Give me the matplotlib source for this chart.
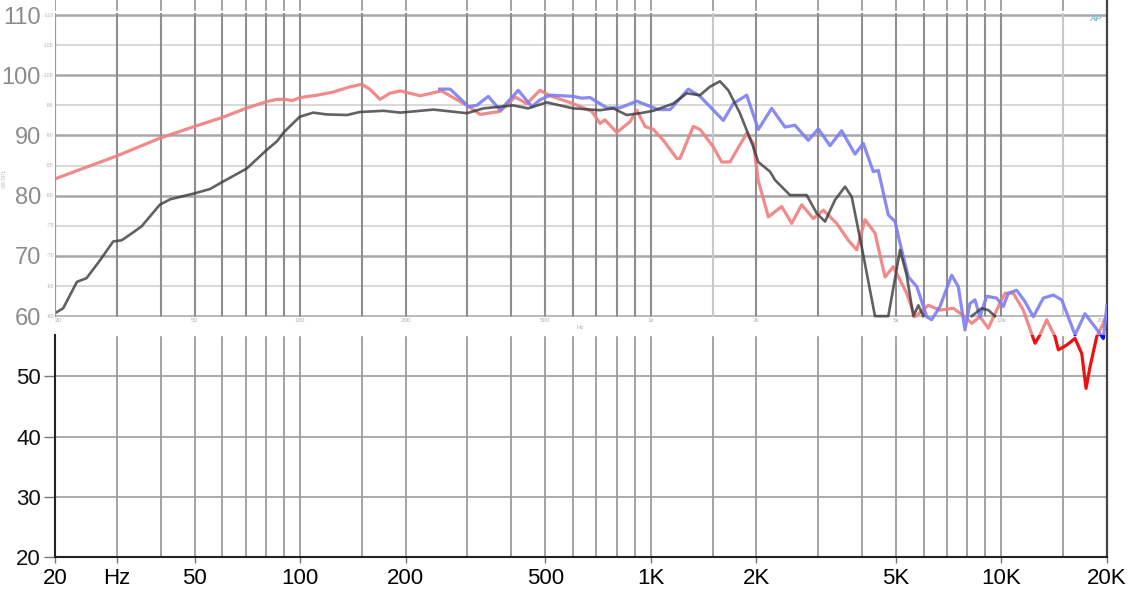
import numpy as np
import matplotlib
matplotlib.use("Agg")
import matplotlib.pyplot as plt
from matplotlib.patches import Rectangle
from matplotlib.transforms import blended_transform_factory

plt.rcParams['font.family'] = ['Liberation Sans', 'DejaVu Sans']

# ---------------- data ----------------
red_f = [20, 30, 40, 50, 60, 70, 80, 86, 90, 95,
         100, 112, 124, 139, 150, 158, 169, 180, 193, 220,
         253, 299, 326, 372, 410, 443, 483, 516, 600, 679,
         717, 740, 800, 873, 912, 963, 1017, 1086, 1186, 1212,
         1322, 1382, 1508, 1593, 1682, 1878, 1961, 2026, 2164, 2363,
         2523, 2694, 2908, 3105, 3390, 3659, 3866, 4083, 4359, 4656,
         4916, 5368, 5670, 6187, 6680, 7290, 7870, 8225, 8686, 9173,
         9693, 10237, 10813, 11545, 12467, 12883, 13463, 14219, 14530, 15353,
         16213, 16943, 17430, 17893, 18696, 19523, 20000]
red_db = [82.8, 86.6, 89.6, 91.5, 93.0, 94.5, 95.6, 96.0, 96.0, 95.8,
          96.3, 96.7, 97.2, 98.1, 98.5, 97.7, 96.0, 97.0, 97.4, 96.6,
          97.4, 95.0, 93.5, 94.0, 96.4, 95.3, 97.5, 96.6, 95.3, 94.0,
          92.0, 92.6, 90.5, 92.3, 94.2, 91.5, 91.0, 89.2, 86.2, 86.2,
          91.5, 91.0, 88.1, 85.6, 85.6, 90.4, 88.7, 82.5, 76.5, 78.2,
          75.4, 78.5, 76.2, 77.6, 75.4, 72.6, 71.0, 76.0, 73.8, 66.5,
          68.2, 63.8, 59.9, 61.8, 61.0, 61.3, 59.9, 58.8, 59.9, 58.0,
          61.0, 63.8, 63.8, 61.0, 55.5, 56.9, 59.4, 56.6, 54.4, 55.2,
          56.3, 53.8, 48.0, 51.6, 56.6, 58.8, 60.4]

blue_f = [250, 268, 302, 319, 344, 372, 419, 458, 483, 516,
          601, 635, 671, 749, 818, 912, 1051, 1135, 1280, 1382,
          1610, 1719, 1878, 2026, 2212, 2414, 2577, 2813, 3004, 3245,
          3502, 3822, 4037, 4310, 4455, 4604, 4758, 4973, 5139, 5427,
          5737, 6124, 6325, 6680, 7213, 7534, 7870, 8132, 8404, 8686,
          9077, 9693, 10122, 10461, 11055, 11673, 12327, 13170, 14063, 14858,
          16213, 17310, 18489, 19523, 20000]
blue_db = [97.7, 97.7, 94.8, 95.0, 96.5, 94.2, 97.5, 94.8, 95.9, 96.7,
           96.5, 96.2, 96.3, 94.6, 94.6, 95.7, 94.3, 94.3, 97.7, 96.5,
           92.5, 95.3, 96.7, 91.0, 94.5, 91.4, 91.7, 89.2, 91.1, 88.3,
           90.8, 86.9, 88.7, 84.0, 84.2, 80.5, 76.8, 75.7, 72.1, 66.5,
           64.9, 59.9, 59.4, 61.6, 66.8, 64.9, 57.7, 62.1, 62.7, 59.9,
           63.3, 63.0, 61.6, 63.8, 64.3, 62.4, 59.9, 63.0, 63.5, 62.7,
           56.9, 60.4, 58.2, 56.3, 61.8]

black_f = [20, 21.1, 23.1, 24.6, 26.9, 29.3, 31.0, 33.4, 35.3, 39.8,
           42.6, 50.1, 55.3, 60.1, 70.4, 80.3, 85.8, 90.1, 99.7, 109,
           119, 136, 148, 173, 193, 240, 299, 333, 405, 447,
           505, 601, 717, 782, 854, 932, 1017, 1159, 1266, 1382,
           1475, 1575, 1664, 1796, 1961, 2026, 2188, 2261, 2495, 2783,
           2972, 3140, 3353, 3581, 3742, 3995, 4359, 4758, 5139, 5368,
           5607, 5795, 5988, 7000, 8225, 8783, 9173, 9584]
black_db = [60.5, 61.3, 65.7, 66.3, 69.3, 72.4, 72.6, 73.9, 74.9, 78.5,
            79.4, 80.4, 81.1, 82.3, 84.5, 87.6, 89.0, 90.6, 93.1, 93.8,
            93.5, 93.4, 93.9, 94.1, 93.8, 94.3, 93.7, 94.5, 95.0, 94.5,
            95.5, 94.5, 94.2, 94.5, 93.4, 93.7, 94.1, 95.3, 97.0, 96.7,
            98.1, 99.0, 97.5, 93.7, 88.1, 85.6, 84.0, 82.6, 80.1, 80.1,
            77.1, 75.7, 79.3, 81.5, 79.8, 71.5, 60.0, 60.0, 71.0, 66.8,
            60.0, 61.8, 60.0, np.nan, 60.0, 61.3, 61.0, 60.0]

grid_freqs = [20, 30, 40, 50, 60, 70, 80, 90, 100, 150, 200, 300, 400, 500,
              600, 700, 800, 900, 1000, 1500, 2000, 3000, 4000, 5000, 6000,
              7000, 8000, 9000, 10000, 15000, 20000]
light_freqs = [1500, 15000]

xtick_vals = [20, 30, 50, 100, 200, 500, 1000, 2000, 5000, 10000, 20000]
xtick_labels = ['20', 'Hz', '50', '100', '200', '500', '1K', '2K', '5K', '10K', '20K']
ytick_vals = [20, 30, 40, 50, 60, 70, 80, 90, 100, 110]

small_x_vals = [20, 50, 100, 200, 500, 1000, 2000, 5000, 10000, 20000]
small_x_labels = ['20', '50', '100', '200', '500', '1k', '2k', '5k', '10k', '20k']

# ---------------- figure ----------------
W, H = 1132, 596
fig = plt.figure(figsize=(W / 100, H / 100), dpi=100)
ax = fig.add_axes([55 / W, 39 / H, 1052 / W, 557 / H])
ax.set_xscale('log')
ax.set_xlim(20, 20000)
ax.set_ylim(20, 112.5)
ax.minorticks_off()

STRIP_LO, STRIP_HI = 56.9, 59.85

# lower plot grid
ax.vlines(grid_freqs, 20, 112.5, color='#939393', lw=1.2, zorder=1)
for y in [30, 40, 50]:
    ax.axhline(y, color='#9d9d9d', lw=1.2, zorder=1)

# upper "screenshot" area
ax.axhspan(STRIP_HI, 110.6, color='white', zorder=1.2)
ax.axhspan(STRIP_LO, STRIP_HI, color='white', zorder=1.6)
for y in range(65, 111, 10):
    ax.axhline(y, color='#d2d2d2', lw=1.2, zorder=1.3)
for y in range(60, 111, 10):
    ax.axhline(y, color='#a8a8a8', lw=1.8, zorder=1.35)
for f in grid_freqs:
    c = '#c8c8c8' if f in light_freqs else '#8e8e8e'
    ax.vlines(f, STRIP_HI, 110.3, color=c, lw=1.5, zorder=1.4)

# tiny screenshot labels
for v, lab in zip(small_x_vals, small_x_labels):
    ha = 'left' if v == 20 else ('right' if v == 20000 else 'center')
    ax.text(v, 59.2, lab, fontsize=4.5, color='#b0b0b0', ha=ha, va='center', zorder=1.7)
ax.text(630, 58.1, 'Hz', fontsize=4.5, color='#b0b0b0', ha='center', va='center', zorder=1.7)
tr = blended_transform_factory(ax.transAxes, ax.transData)
for y in range(60, 111, 5):
    ax.text(-0.001, y, '-' + str(y), fontsize=3.8, color='#b5b5b5', ha='right', va='center',
            transform=tr, zorder=5, clip_on=False)
fig.text(0.004, 0.70, 'dB SPL', fontsize=4, color='#c0c0c0', rotation=90, ha='center', va='center')
ax.text(18500, 109.4, 'AP', fontsize=6.5, color='#7bbcd0', style='italic', ha='center',
        va='center', zorder=2, fontweight='bold')

# curves
upper_clip = Rectangle((20, STRIP_LO), 19980, 60, transform=ax.transData)
lower_clip = Rectangle((20, 10), 19980, STRIP_LO - 10, transform=ax.transData)

l, = ax.plot(red_f, red_db, color='#f07f7f', lw=2.3, alpha=0.9, zorder=3,
             solid_joinstyle='round')
l.set_clip_path(upper_clip)
l, = ax.plot(red_f, red_db, color='#ee1111', lw=2.3, zorder=3.1, solid_joinstyle='round')
l.set_clip_path(lower_clip)

l, = ax.plot(blue_f, blue_db, color='#7d7df2', lw=2.3, alpha=0.9, zorder=3.2,
             solid_joinstyle='round')
l.set_clip_path(upper_clip)
l, = ax.plot(blue_f, blue_db, color='#1010dd', lw=2.3, zorder=3.3, solid_joinstyle='round')
l.set_clip_path(lower_clip)

ax.plot(black_f, black_db, color='#3a3a3a', lw=1.9, alpha=0.8, zorder=3.5,
        solid_joinstyle='round')

# axes styling
ax.spines['top'].set_visible(False)
ax.spines['left'].set_bounds(20, STRIP_LO)
ax.spines['left'].set_color('#222222')
ax.spines['left'].set_linewidth(1.5)
ax.spines['bottom'].set_color('#222222')
ax.spines['bottom'].set_linewidth(1.5)
ax.spines['right'].set_color('#444444')
ax.spines['right'].set_linewidth(1.6)
ax.vlines(20, STRIP_HI, 110.3, color='#9a9a9a', lw=1.5, zorder=4)

ax.set_xticks(xtick_vals)
ax.set_xticklabels(xtick_labels, fontsize=16)
ax.tick_params(axis='x', length=4, width=1, color='#777777', pad=4)
ax.set_yticks(ytick_vals)
ax.set_yticklabels([str(v) for v in ytick_vals], fontsize=16)
ax.tick_params(axis='y', length=8, width=1, color='#777777', pad=2)
for tick, v in zip(ax.yaxis.get_major_ticks(), ytick_vals):
    if v >= 60:
        tick.tick1line.set_visible(False)
        tick.label1.set_color('#8c8c8c')
        tick.label1.set_fontsize(17)
    else:
        tick.label1.set_color('#111111')

fig.savefig('out.png', dpi=100, facecolor='white')
